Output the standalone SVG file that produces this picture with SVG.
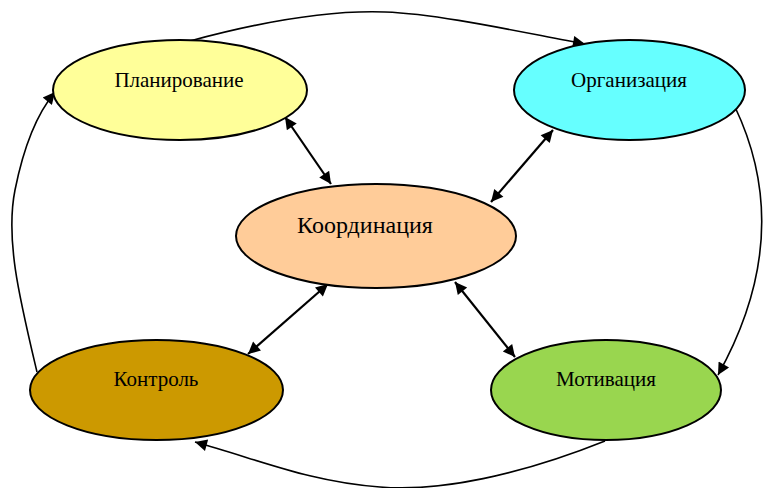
<svg xmlns="http://www.w3.org/2000/svg" width="766" height="488" viewBox="0 0 766 488">
<style>
.n{stroke:#000;stroke-width:2}
.t{font-family:"Liberation Serif","Times New Roman",serif;fill:#000;text-anchor:middle}
.c{fill:none;stroke:#000;stroke-width:1.6}
.d{fill:none;stroke:#000;stroke-width:2.2}
</style>
<defs>
<marker id="b" viewBox="0 0 10 10" refX="10" refY="5" markerWidth="16" markerHeight="12" markerUnits="userSpaceOnUse" orient="auto-start-reverse"><path d="M0,0 L10,5 L0,10 z" fill="#000"/></marker>
</defs>
<rect width="766" height="488" fill="#fff"/>
<g id="connectors">
<path class="c" d="M190,41 C260,22 330,10 385,12 C440,14 520,32 585,44" marker-end="url(#b)"/>
<path class="c" d="M735,107 C765,170 782,260 718,375" marker-end="url(#b)"/>
<path class="c" d="M605,441 C520,475 440,492 380,487 C310,482 260,460 195,442" marker-end="url(#b)"/>
<path class="c" d="M37,372 C20,300 5,240 15,190 C25,140 40,110 55,92" marker-end="url(#b)"/>
<path class="d" d="M285,117 L331,184" marker-start="url(#b)" marker-end="url(#b)"/>
<path class="d" d="M553,130 L491,202" marker-start="url(#b)" marker-end="url(#b)"/>
<path class="d" d="M328,284 L248,354" marker-start="url(#b)" marker-end="url(#b)"/>
<path class="d" d="M455,282 L515,357" marker-start="url(#b)" marker-end="url(#b)"/>
</g>
<g id="planning"><ellipse class="n" cx="180" cy="90" rx="127" ry="50" fill="#FFFF99"/><text class="t" x="179" y="87" font-size="21">Планирование</text></g>
<g id="organization"><ellipse class="n" cx="629.5" cy="90" rx="115.5" ry="50" fill="#66FFFF"/><text class="t" x="629" y="87" font-size="21">Организация</text></g>
<g id="coordination"><ellipse class="n" cx="376" cy="236" rx="140" ry="52" fill="#FFCC99"/><text class="t" x="365" y="233" font-size="24">Координация</text></g>
<g id="control"><ellipse class="n" cx="156.5" cy="390" rx="126.5" ry="50" fill="#CC9900"/><text class="t" x="156" y="386" font-size="21">Контроль</text></g>
<g id="motivation"><ellipse class="n" cx="606" cy="390" rx="115" ry="50" fill="#99D64F"/><text class="t" x="606" y="386" font-size="21">Мотивация</text></g>
</svg>
